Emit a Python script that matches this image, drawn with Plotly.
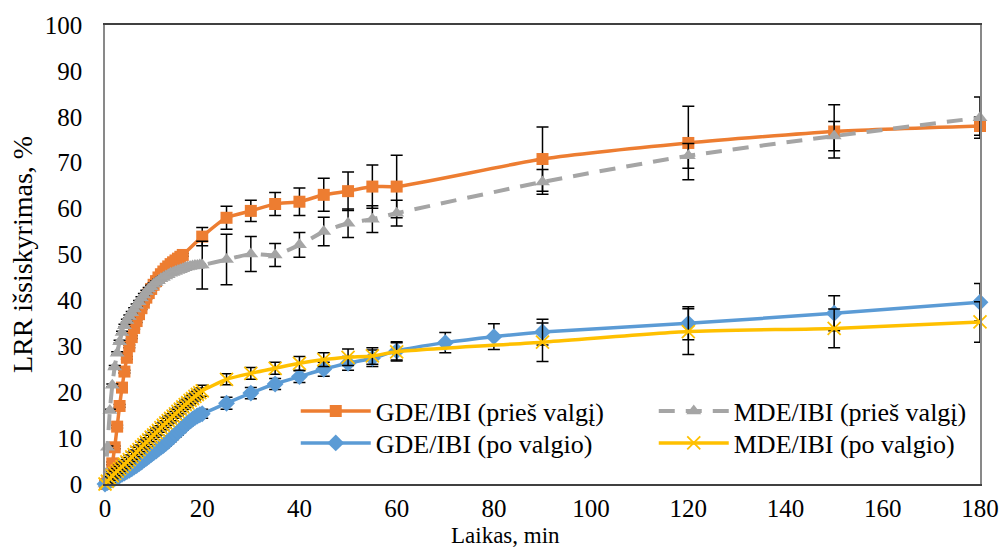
import plotly.graph_objects as go

# ---------------- data ----------------
t_gde_pre = [0, 0.5, 1, 1.5, 2, 2.5, 3, 3.5, 4, 4.5, 5, 5.5, 6, 6.5, 7, 7.5, 8, 8.5, 9, 9.5,
             10, 10.5, 11, 11.5, 12, 12.5, 13, 13.5, 14, 14.5, 15, 15.5, 16,
             20, 25, 30, 35, 40, 45, 50, 55, 60, 90, 120, 150, 180]
y_gde_pre = [0, 0.5, 2, 4.5, 8, 12.5, 17, 21, 24.5, 27.5, 30, 32, 34, 35.5, 37, 38.3, 39.5, 40.6, 41.6, 42.5,
             43.4, 44.2, 45, 45.7, 46.3, 46.9, 47.4, 47.9, 48.3, 48.7, 49.1, 49.5, 49.9,
             53.9, 58.0, 59.5, 61.0, 61.5, 63.0, 63.8, 64.8, 64.8, 70.8, 74.3, 76.8, 78.0]
e_gde_pre = [0.3, 0.3, 0.3, 0.3, 0.3, 0.3, 0.3, 0.3, 0.3, 0.3, 0.3, 0.3, 0.3, 0.3, 0.3, 0.3, 0.3, 0.3, 0.3, 0.3,
             0.3, 0.3, 0.3, 0.3, 0.3, 0.3, 0.3, 0.3, 0.3, 0.3, 0.3, 0.3, 0.3,
             2.0, 2.5, 2.3, 2.5, 3.0, 3.6, 4.2, 4.7, 6.8, 7.0, 8.0, 5.8, 2.0]

t_mde_pre = [0, 0.5, 1, 1.5, 2, 2.5, 3, 3.5, 4, 4.5, 5, 5.5, 6, 6.5, 7, 7.5, 8, 8.5, 9, 9.5,
             10, 10.5, 11, 11.5, 12, 12.5, 13, 13.5, 14, 14.5, 15, 15.5, 16, 16.5, 17, 17.5, 18, 18.5, 19, 19.5,
             20, 25, 30, 35, 40, 45, 50, 55, 60, 90, 120, 150, 180]
y_mde_pre = [0, 8, 16, 21.5, 25.5, 28.5, 31, 33, 34.5, 35.6, 36.5, 37.3, 38.1, 38.9, 39.7, 40.5, 41.2, 41.9, 42.5, 43.0,
             43.5, 43.9, 44.3, 44.7, 45.0, 45.3, 45.6, 45.9, 46.1, 46.3, 46.5, 46.7, 46.9, 47.1, 47.3, 47.4, 47.5, 47.6, 47.6, 47.7,
             47.7, 48.9, 50.1, 49.9, 52.1, 55.0, 56.8, 57.7, 59.0, 65.8, 71.5, 75.8, 79.8]
e_mde_pre = [0.3, 0.3, 0.3, 0.3, 0.3, 0.3, 0.3, 0.3, 0.3, 0.3, 0.3, 0.3, 0.3, 0.3, 0.3, 0.3, 0.3, 0.3, 0.3, 0.3,
             0.3, 0.3, 0.3, 0.3, 0.3, 0.3, 0.3, 0.3, 0.3, 0.3, 0.3, 0.3, 0.3, 0.3, 0.3, 0.3, 0.3, 0.3, 0.3, 0.3,
             5.2, 5.5, 3.8, 2.5, 2.7, 3.1, 3.1, 2.9, 2.8, 2.7, 2.7, 3.2, 4.5]

t_gde_post = [0, 0.5, 1, 1.5, 2, 2.5, 3, 3.5, 4, 4.5, 5, 5.5, 6, 6.5, 7, 7.5, 8, 8.5, 9, 9.5,
              10, 10.5, 11, 11.5, 12, 12.5, 13, 13.5, 14, 14.5, 15, 15.5, 16, 16.5, 17, 17.5, 18, 18.5, 19, 19.5,
              20, 25, 30, 35, 40, 45, 50, 55, 60, 70, 80, 90, 120, 150, 180]
y_gde_post = [0, 0.3, 0.6, 0.9, 1.2, 1.5, 1.8, 2.1, 2.4, 2.7, 3.0, 3.3, 3.7, 4.0, 4.4, 4.8, 5.2, 5.6, 6.0, 6.4,
              6.8, 7.2, 7.6, 8.0, 8.4, 8.8, 9.3, 9.8, 10.3, 10.8, 11.3, 11.8, 12.3, 12.8, 13.3, 13.7, 14.1, 14.5, 14.8, 15.1,
              15.3, 17.6, 19.8, 21.8, 23.4, 25.0, 26.3, 27.4, 29.0, 30.8, 32.1, 33.1, 35.0, 37.2, 39.6]
e_gde_post = [0.3, 0.6, 0.6, 0.6, 0.6, 0.6, 0.6, 0.6, 0.6, 0.6, 0.6, 0.6, 0.6, 0.6, 0.6, 0.6, 0.6, 0.6, 0.6, 0.6,
              0.6, 0.6, 0.6, 0.6, 0.6, 0.6, 0.6, 0.6, 0.6, 0.6, 0.6, 0.6, 0.6, 0.6, 0.6, 0.6, 0.6, 0.6, 0.6, 0.6,
              1.0, 1.3, 1.2, 1.2, 1.3, 1.5, 1.5, 1.8, 2.0, 2.2, 2.8, 2.8, 3.6, 3.8, 4.1]

t_mde_post = [0, 0.5, 1, 1.5, 2, 2.5, 3, 3.5, 4, 4.5, 5, 5.5, 6, 6.5, 7, 7.5, 8, 8.5, 9, 9.5,
              10, 10.5, 11, 11.5, 12, 12.5, 13, 13.5, 14, 14.5, 15, 15.5, 16, 16.5, 17, 17.5, 18, 18.5, 19, 19.5,
              20, 25, 30, 35, 40, 45, 50, 55, 60, 90, 120, 150, 180]
y_mde_post = [0, 0.6, 1.2, 1.8, 2.3, 2.8, 3.3, 3.8, 4.3, 4.8, 5.3, 5.9, 6.4, 7.0, 7.5, 8.1, 8.6, 9.1, 9.6, 10.2,
              10.7, 11.2, 11.7, 12.3, 12.8, 13.3, 13.8, 14.3, 14.8, 15.3, 15.8, 16.3, 16.8, 17.3, 17.7, 18.2, 18.6, 19.1, 19.5, 19.9,
              20.3, 22.8, 24.1, 25.2, 26.3, 27.1, 27.6, 27.9, 28.8, 30.9, 33.2, 33.9, 35.3]
e_mde_post = [0.3, 1, 1, 1, 1, 1, 1, 1, 1, 1, 1, 1, 1, 1, 1, 1, 1, 1, 1, 1,
              1, 1, 1, 1, 1, 1, 1, 1, 1, 1, 1, 1, 1, 1, 1, 1, 1, 1, 1, 1,
              1.2, 1.2, 1.3, 1.3, 1.5, 1.5, 1.8, 1.8, 2.0, 4.2, 5.0, 4.2, 4.4]

x_ticks = [0, 20, 40, 60, 80, 100, 120, 140, 160, 180]
y_ticks = [0, 10, 20, 30, 40, 50, 60, 70, 80, 90, 100]

names = ["GDE/IBI (prieš valgį)", "MDE/IBI (prieš valgį)",
         "GDE/IBI (po valgio)", "MDE/IBI (po valgio)"]

FONT = "Liberation Serif"

fig = go.Figure()

def err(arr):
    return dict(type="data", array=arr, visible=True, color="black", thickness=1.5, width=6)

fig.add_trace(go.Scatter(
    x=t_gde_pre, y=y_gde_pre, name=names[0], mode="lines+markers", legend="legend",
    line=dict(color="#ED7D31", width=3.5, shape="spline", smoothing=0.6),
    marker=dict(symbol="square", size=12, color="#ED7D31"),
    error_y=err(e_gde_pre), cliponaxis=False))
fig.add_trace(go.Scatter(
    x=t_mde_pre, y=y_mde_pre, name=names[1], mode="lines+markers", legend="legend",
    line=dict(color="#A5A5A5", width=4, dash="16px,11px", shape="spline", smoothing=0.6),
    marker=dict(symbol="triangle-up", size=13, color="#A5A5A5"),
    error_y=err(e_mde_pre), cliponaxis=False))
fig.add_trace(go.Scatter(
    x=t_gde_post, y=y_gde_post, name=names[2], mode="lines+markers", legend="legend2",
    line=dict(color="#5B9BD5", width=3.5, shape="spline", smoothing=0.6),
    marker=dict(symbol="diamond", size=13, color="#5B9BD5"),
    error_y=err(e_gde_post), cliponaxis=False))
fig.add_trace(go.Scatter(
    x=t_mde_post, y=y_mde_post, name=names[3], mode="lines+markers", legend="legend2",
    line=dict(color="#FFC000", width=3.5, shape="spline", smoothing=0.6),
    marker=dict(symbol="x-thin-open", size=13, color="#FFC000",
                line=dict(color="#FFC000", width=1.8)),
    error_y=err(e_mde_post), cliponaxis=False))

def leg(yc):
    return dict(orientation="h", xanchor="left", yanchor="middle",
                x=0.218, y=yc,
                entrywidth=273, entrywidthmode="pixels", itemwidth=70,
                font=dict(family=FONT, size=26, color="black"),
                bgcolor="rgba(255,255,255,0)")

fig.update_layout(
    width=1003, height=547,
    margin=dict(l=105, r=23, t=25, b=63, autoexpand=False),
    paper_bgcolor="white", plot_bgcolor="white",
    font=dict(family=FONT, size=25, color="black"),
    showlegend=True,
    legend=leg((484 - 411) / 459),
    legend2=leg((484 - 443) / 459),
    xaxis=dict(range=[0, 180], tickvals=x_ticks, ticktext=[str(v) for v in x_ticks],
               showgrid=False, zeroline=False, showline=True, linecolor="#404040", linewidth=1.5,
               mirror=True, ticks="", ticklabelstandoff=1,
               tickfont=dict(family=FONT, size=25), automargin=False),
    yaxis=dict(range=[0, 100], tickvals=y_ticks, ticktext=[str(v) for v in y_ticks],
               showgrid=False, zeroline=False, showline=True, linecolor="#898989", linewidth=1.5,
               mirror=True, ticks="", ticklabelstandoff=16,
               tickfont=dict(family=FONT, size=25), automargin=False,
               title=dict(text="LRR išsiskyrimas, %", font=dict(family=FONT, size=28), standoff=4)),
)

fig.add_annotation(text="Laikas, min", xref="paper", yref="paper", x=0.458, y=(484 - 535) / 459,
                   xanchor="center", yanchor="middle", showarrow=False,
                   font=dict(family=FONT, size=23, color="black"))

fig.write_html("out.html")
